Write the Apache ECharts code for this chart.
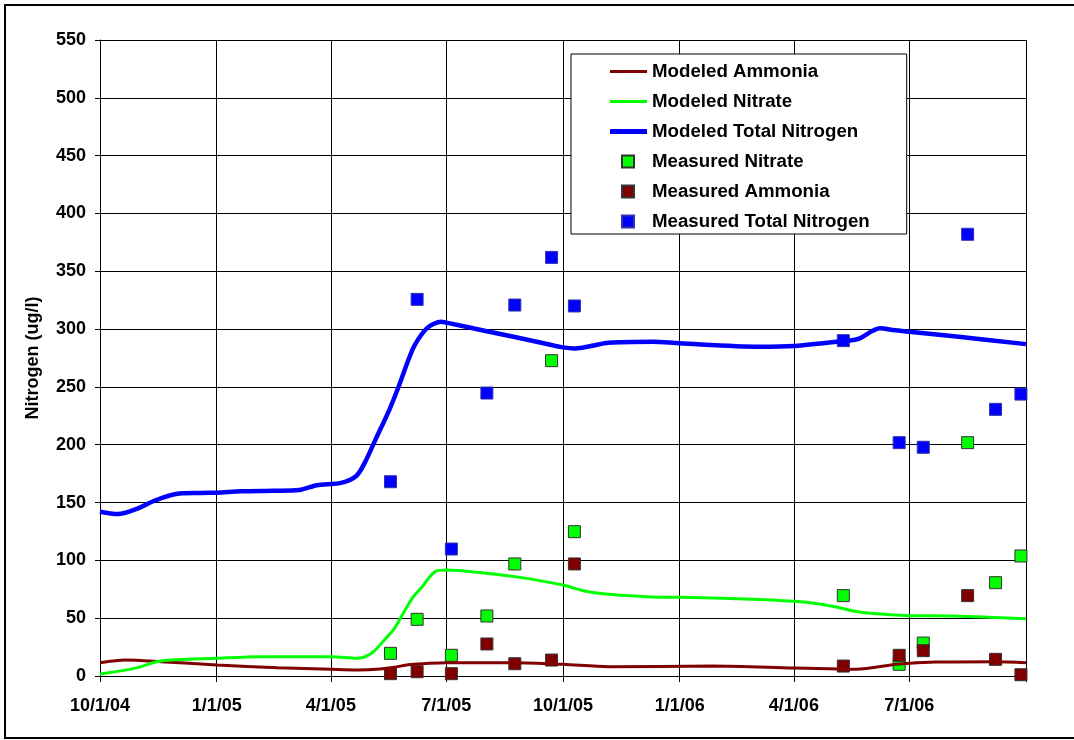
<!DOCTYPE html>
<html>
<head>
<meta charset="utf-8">
<script src="https://cdn.jsdelivr.net/npm/echarts@6/dist/echarts.min.js"></script>
<style>
  html, body { margin: 0; padding: 0; background: #fff; }
  #chart { width: 1074px; height: 740px; }
</style>
</head>
<body>
<div id="chart"></div>
<script>
// modeled ammonia
const ammoniaModelDates = ['2004-10-01', '2004-10-21', '2004-11-18', '2005-01-01', '2005-02-18', '2005-04-01', '2005-04-22',
  '2005-05-10', '2005-05-21', '2005-06-01', '2005-06-15', '2005-07-01', '2005-08-24', '2005-10-01', '2005-11-06',
  '2006-01-27', '2006-04-01', '2006-05-07', '2006-05-20', '2006-06-23', '2006-07-22', '2006-09-07', '2006-10-01'];
const ammoniaModelValues = [11.5, 13.8, 12.4, 9.5, 7.2, 5.8, 5.2,
  6, 7.5, 9.8, 10.8, 11.5, 11.5, 10.1, 8,
  8.6, 6.9, 6, 5.8, 10.4, 12.1, 12.4, 11.5];

// modeled nitrate
const nitrateModelDates = ['2004-10-01', '2004-10-28', '2004-11-18', '2005-01-01', '2005-02-05', '2005-04-01', '2005-04-22',
  '2005-05-03', '2005-05-13', '2005-05-21', '2005-05-28', '2005-06-05', '2005-06-11', '2005-06-22', '2005-07-01',
  '2005-08-01', '2005-08-28', '2005-10-01', '2005-10-17', '2005-11-04', '2005-12-06', '2006-01-01', '2006-02-22',
  '2006-04-01', '2006-04-21', '2006-05-07', '2006-05-18', '2006-05-31', '2006-07-01', '2006-08-03', '2006-10-01'];
const nitrateModelValues = [1.7, 6.6, 13, 15.3, 16.7, 16.7, 15.3,
  19.6, 31, 41, 54, 68.6, 75.8, 90.2, 91.7,
  88.8, 85.3, 78.7, 73.8, 70.9, 68.6, 68, 66.6,
  64.6, 62.3, 59, 56.2, 54.2, 52.2, 51.9, 49.6];

// modeled total nitrogen
const totalModelDates = ['2004-10-01', '2004-10-15', '2004-10-31', '2004-11-11', '2004-11-30', '2004-12-20', '2005-01-01',
  '2005-01-20', '2005-02-15', '2005-03-07', '2005-03-21', '2005-04-09', '2005-04-21', '2005-04-28', '2005-05-06',
  '2005-05-17', '2005-05-24', '2005-06-01', '2005-06-06', '2005-06-16', '2005-06-27', '2005-07-01', '2005-08-01',
  '2005-08-24', '2005-09-22', '2005-10-01', '2005-10-10', '2005-11-06', '2005-12-11', '2006-01-01', '2006-03-05',
  '2006-04-01', '2006-04-27', '2006-05-18', '2006-05-23', '2006-06-08', '2006-06-18', '2006-07-01', '2006-08-09',
  '2006-10-01'];
const totalModelValues = [142, 140, 145, 150.7, 157.4, 158.3, 158.5,
  159.7, 160.2, 160.8, 165, 167, 173, 185, 204,
  230, 249, 273, 286, 301, 306.4, 305.6, 298.4,
  293.1, 286.2, 284.2, 283.3, 288.2, 289.1, 287.7, 284.8,
  285.4, 288.2, 290.6, 292, 300.7, 299.2, 297.7, 293.4,
  287];

// measured samples
const sampleDates = ['2005-05-18', '2005-06-08', '2005-07-05', '2005-08-02', '2005-08-24', '2005-09-22', '2005-10-10',
  '2006-05-10', '2006-06-23', '2006-07-12', '2006-08-16', '2006-09-07', '2006-09-27'];
const nitrateMeasured = [19.6, 49, 17.9, 51.9, 96.9, 272.7, 124.8, 69.5, 10.1, 28.5, 201.8, 80.7, 103.8];
const ammoniaMeasured = [2, 3.7, 2, 27.7, 10.6, 13.8, 96.9, 8.6, 17.9, 21.9, 69.5, 14.4, 1.1];
const totalMeasured = [168, 325.7, 109.8, 244.7, 320.8, 362, 320, 290, 201.8, 197.8, 382, 230.6, 243.8];

const xStart = '2004-10-01';
const xEnd = '2006-10-01';
const font = 'Arial, "Liberation Sans", sans-serif';

function pairs(dates, values) {
  return dates.map((d, i) => [d, values[i]]);
}

function fmtDate(v) {
  const d = new Date(v);
  // last gridline has no label in the original
  if (v >= new Date(xEnd + 'T00:00:00').getTime()) return '';
  return (d.getMonth() + 1) + '/' + d.getDate() + '/' + String(d.getFullYear()).slice(2);
}

// icons sit in a 37x12 slot, the stray moveTo's keep the box size
const squareIcon = 'path://M0,0M37,12M12,0h12v12h-12z';
const thinLineIcon = 'path://M0,0M37,12M0,4.5h37v3h-37z';
const thickLineIcon = 'path://M0,0M37,12M0,3.5h37v5h-37z';

const chart = echarts.init(document.getElementById('chart'));

chart.setOption({
  animation: false,
  backgroundColor: '#fff',
  textStyle: { fontFamily: font },
  graphic: [{
    type: 'rect',
    shape: { x: 5, y: 5, width: 1074, height: 733 },
    style: { fill: 'none', stroke: '#000', lineWidth: 2 },
    silent: true
  }],
  grid: { left: 100, right: 48, top: 40, bottom: 64 },
  legend: {
    orient: 'vertical',
    left: 571,
    top: 54,
    padding: [8, 37, 3, 38],
    backgroundColor: '#fff',
    borderColor: '#000',
    borderWidth: 1,
    itemWidth: 37,
    itemHeight: 12,
    itemGap: 11,
    itemTextGap: 3,
    selectedMode: false,
    textStyle: { color: '#000', fontSize: 18.7, fontWeight: 'bold', fontFamily: font, lineHeight: 18 },
    data: [
      { name: 'Modeled Ammonia', icon: thinLineIcon },
      { name: 'Modeled Nitrate', icon: thinLineIcon },
      { name: 'Modeled Total Nitrogen', icon: thickLineIcon },
      { name: 'Measured Nitrate', icon: squareIcon },
      { name: 'Measured Ammonia', icon: squareIcon },
      { name: 'Measured Total Nitrogen', icon: squareIcon }
    ]
  },
  xAxis: {
    type: 'time',
    min: xStart,
    max: xEnd,
    splitNumber: 8,
    minInterval: 80 * 86400000,
    maxInterval: 100 * 86400000,
    axisLine: { lineStyle: { color: '#000', width: 1 } },
    axisTick: { show: true, length: 6, lineStyle: { color: '#000' } },
    axisLabel: {
      color: '#000', fontSize: 18, fontWeight: 'bold', fontFamily: font, margin: 21,
      formatter: fmtDate
    },
    splitLine: { show: true, lineStyle: { color: '#000', width: 1 } }
  },
  yAxis: {
    type: 'value',
    min: 0,
    max: 550,
    interval: 50,
    name: 'Nitrogen (ug/l)',
    nameLocation: 'middle',
    nameRotate: 90,
    nameGap: 58,
    nameTextStyle: { color: '#000', fontSize: 18, fontWeight: 'bold', fontFamily: font },
    axisLine: { show: true, lineStyle: { color: '#000', width: 1 } },
    axisTick: { show: true, length: 5, lineStyle: { color: '#000' } },
    axisLabel: { color: '#000', fontSize: 18, fontWeight: 'bold', fontFamily: font, margin: 14 },
    splitLine: { show: true, lineStyle: { color: '#000', width: 1 } }
  },
  series: [
    {
      name: 'Modeled Ammonia',
      type: 'line',
      symbol: 'none',
      smooth: 0.3,
      data: pairs(ammoniaModelDates, ammoniaModelValues),
      itemStyle: { color: '#800000' },
      lineStyle: { color: '#800000', width: 3 }
    },
    {
      name: 'Modeled Nitrate',
      type: 'line',
      symbol: 'none',
      smooth: 0.3,
      data: pairs(nitrateModelDates, nitrateModelValues),
      itemStyle: { color: '#00ff00' },
      lineStyle: { color: '#00ff00', width: 3 }
    },
    {
      name: 'Modeled Total Nitrogen',
      type: 'line',
      symbol: 'none',
      smooth: 0.3,
      data: pairs(totalModelDates, totalModelValues),
      itemStyle: { color: '#0000ff' },
      lineStyle: { color: '#0000ff', width: 4.5 }
    },
    {
      name: 'Measured Nitrate',
      type: 'scatter',
      symbol: 'rect',
      symbolSize: 12,
      data: pairs(sampleDates, nitrateMeasured),
      itemStyle: { color: '#00ff00', borderColor: '#333', borderWidth: 1, opacity: 1 }
    },
    {
      name: 'Measured Ammonia',
      type: 'scatter',
      symbol: 'rect',
      symbolSize: 12,
      data: pairs(sampleDates, ammoniaMeasured),
      itemStyle: { color: '#800000', borderColor: '#333', borderWidth: 1, opacity: 1 }
    },
    {
      name: 'Measured Total Nitrogen',
      type: 'scatter',
      symbol: 'rect',
      symbolSize: 12,
      data: pairs(sampleDates, totalMeasured),
      itemStyle: { color: '#0000ff', borderColor: '#3333aa', borderWidth: 1, opacity: 1 }
    }
  ]
});
</script>
</body>
</html>
